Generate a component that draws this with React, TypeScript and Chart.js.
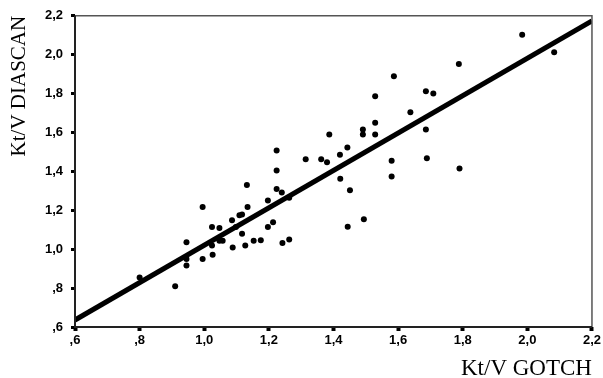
import React, { useEffect, useRef } from "react";
import { Chart, registerables } from "chart.js";

Chart.register(...registerables);

const xTickLabels = [",6", ",8", "1,0", "1,2", "1,4", "1,6", "1,8", "2,0", "2,2"];
const yTickLabels = [",6", ",8", "1,0", "1,2", "1,4", "1,6", "1,8", "2,0", "2,2"];

const gotch = [
  0.80, 0.91, 0.945, 0.945, 0.945, 0.995, 0.995, 1.024, 1.024, 1.026,
  1.047, 1.047, 1.057, 1.088, 1.086, 1.098, 1.109, 1.117, 1.117, 1.127,
  1.132, 1.134, 1.153, 1.175, 1.197, 1.197, 1.213, 1.224, 1.224, 1.242,
  1.263, 1.240, 1.263, 1.224, 1.314, 1.362, 1.387, 1.38, 1.420, 1.443,
  1.421, 1.451, 1.494, 1.444, 1.491, 1.491, 1.529, 1.529, 1.529, 1.587,
  1.580, 1.580, 1.638, 1.686, 1.709, 1.686, 1.689, 1.790, 1.788, 1.984,
  2.083,
];
const diascan = [
  0.855, 0.81, 1.036, 0.95, 0.916, 1.217, 0.95, 1.114, 1.019, 0.971,
  1.109, 1.043, 1.043, 1.009, 1.149, 1.114, 1.174, 1.179, 1.08, 1.019,
  1.33, 1.217, 1.043, 1.046, 1.251, 1.114, 1.138, 1.405, 1.309, 1.032,
  1.05, 1.292, 1.265, 1.508, 1.462, 1.462, 1.59, 1.447, 1.486, 1.523,
  1.362, 1.303, 1.154, 1.116, 1.615, 1.59, 1.59, 1.65, 1.786, 1.889,
  1.455, 1.374, 1.704, 1.812, 1.8, 1.615, 1.468, 1.415, 1.952, 2.103,
  2.012,
];
const fitX = [0.6, 2.2];
const fitY = [0.636, 2.174];

const framePlugin = {
  id: "frame",
  afterDatasetsDraw(chart: any) {
    const { ctx, chartArea } = chart;
    const { left, right, top, bottom } = chartArea;
    ctx.save();
    ctx.strokeStyle = "#555";
    ctx.lineWidth = 1.5;
    ctx.beginPath();
    ctx.moveTo(left, top);
    ctx.lineTo(right, top);
    ctx.lineTo(right, bottom);
    ctx.stroke();
    ctx.strokeStyle = "#222";
    ctx.lineWidth = 2;
    ctx.beginPath();
    ctx.moveTo(left, top);
    ctx.lineTo(left, bottom);
    ctx.lineTo(right, bottom);
    ctx.stroke();
    ctx.restore();
  },
};

export default function App() {
  const ref = useRef<HTMLCanvasElement | null>(null);
  useEffect(() => {
    if (!ref.current) return;
    const points = gotch.map((x, i) => ({ x, y: diascan[i] }));
    const fit = fitX.map((x, i) => ({ x, y: fitY[i] }));
    const tickFont = { family: "'Liberation Sans', Arial, sans-serif", size: 13, weight: "bold" as const };
    const chart = new Chart(ref.current, {
      type: "scatter",
      data: {
        datasets: [
          {
            type: "line",
            data: fit,
            borderColor: "#000",
            borderWidth: 5,
            pointRadius: 0,
            fill: false,
            order: 2,
          } as any,
          {
            data: points,
            backgroundColor: "#000",
            borderColor: "#000",
            pointRadius: 3,
            pointBorderWidth: 0,
            order: 1,
          },
        ],
      },
      options: {
        animation: false,
        responsive: false,
        layout: { padding: { top: 15, right: 9, left: 0, bottom: 0 } },
        plugins: { legend: { display: false }, tooltip: { enabled: false } },
        scales: {
          x: {
            type: "linear",
            min: 0.6,
            max: 2.2,
            ticks: {
              stepSize: 0.2,
              color: "#000",
              font: tickFont,
              padding: 2,
              maxRotation: 0,
              callback: (v: any, i: number) => xTickLabels[i] ?? String(v),
            },
            grid: {
              drawOnChartArea: false,
              tickLength: 4,
              tickWidth: 4,
              tickColor: "#000",
            },
            border: { display: false },
            title: {
              display: true,
              text: "Kt/V GOTCH",
              align: "end",
              color: "#000",
              font: { family: "'Liberation Serif', 'Times New Roman', serif", size: 23, lineHeight: 0.75 },
              padding: { top: 0, bottom: 0 },
            },
            afterFit: (s: any) => {
              s.height = 51;
            },
          },
          y: {
            type: "linear",
            min: 0.6,
            max: 2.2,
            ticks: {
              stepSize: 0.2,
              color: "#000",
              font: tickFont,
              padding: 8,
              callback: (v: any, i: number) => yTickLabels[i] ?? String(v),
            },
            grid: {
              drawOnChartArea: false,
              tickLength: 4,
              tickWidth: 3,
              tickColor: "#000",
            },
            border: { display: false },
            title: {
              display: true,
              text: "Kt/V DIASCAN",
              align: "end",
              color: "#000",
              font: { family: "'Liberation Serif', 'Times New Roman', serif", size: 21, lineHeight: 1.2 },
              padding: { top: 7, bottom: 0 },
            },
            afterFit: (s: any) => {
              s.width = 75;
            },
          },
        },
      },
      plugins: [framePlugin],
    });
    return () => chart.destroy();
  }, []);
  return (
    <div style={{ position: "absolute", left: 0, top: 0, width: 603, height: 378, background: "#fff" }}>
      <canvas ref={ref} width={603} height={378} />
    </div>
  );
}
